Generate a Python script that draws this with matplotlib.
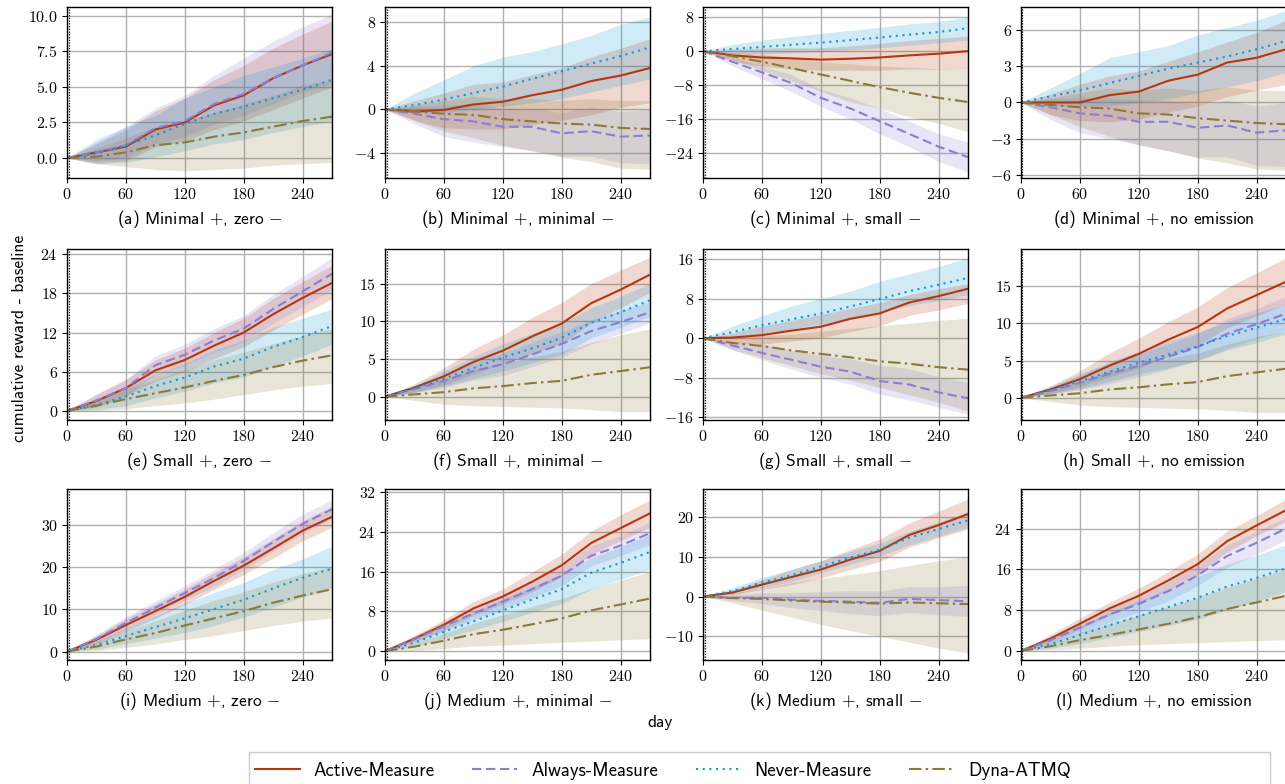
import matplotlib
matplotlib.use("Agg")
import matplotlib.pyplot as plt
from matplotlib.ticker import FixedLocator, FuncFormatter
from matplotlib.patches import Rectangle
from matplotlib.transforms import offset_copy

# ---------------- data ----------------
days = [0, 30, 60, 90, 120, 150, 180, 210, 240, 270]

panel_titles = [
    "(a) Minimal $+$, zero $-$", "(b) Minimal $+$, minimal $-$",
    "(c) Minimal $+$, small $-$", "(d) Minimal $+$, no emission",
    "(e) Small $+$, zero $-$", "(f) Small $+$, minimal $-$",
    "(g) Small $+$, small $-$", "(h) Small $+$, no emission",
    "(i) Medium $+$, zero $-$", "(j) Medium $+$, minimal $-$",
    "(k) Medium $+$, small $-$", "(l) Medium $+$, no emission",
]

y_limits = [(-1.4, 10.6), (-6.3, 9.4), (-29.9, 10.4), (-6.25, 7.9),
            (-1.4, 24.8), (-3.1, 19.6), (-16.6, 18.05), (-3.0, 20.0),
            (-2.0, 38.6), (-1.8, 32.7), (-16.0, 27.1), (-1.8, 31.75)]

y_ticks = [[0, 2.5, 5, 7.5, 10], [-4, 0, 4, 8], [-24, -16, -8, 0, 8], [-6, -3, 0, 3, 6],
           [0, 6, 12, 18, 24], [0, 5, 10, 15], [-16, -8, 0, 8, 16], [0, 5, 10, 15],
           [0, 10, 20, 30], [0, 8, 16, 24, 32], [-10, 0, 10, 20], [0, 8, 16, 24]]

x_ticks = [0, 60, 120, 180, 240]

series_names = ["Active-Measure", "Always-Measure", "Never-Measure", "Dyna-ATMQ"]

ACTIVE_MEAN = [
    [0, 0.4, 0.8, 2.0, 2.5, 3.7, 4.4, 5.6, 6.5, 7.3],
    [0, -0.2, -0.05, 0.45, 0.7, 1.3, 1.8, 2.6, 3.1, 3.8],
    [0, -1.0, -1.5, -1.7, -2.0, -1.8, -1.5, -1.0, -0.6, 0.0],
    [0, 0.0, 0.0, 0.6, 0.9, 1.8, 2.3, 3.3, 3.7, 4.4],
    [0, 1.5, 3.5, 6.2, 7.8, 10.0, 12.0, 14.8, 17.3, 19.6],
    [0, 1.2, 2.7, 4.6, 6.1, 8.0, 9.7, 12.4, 14.2, 16.2],
    [0, 0.1, 0.6, 1.5, 2.3, 3.9, 5.0, 7.2, 8.5, 10.0],
    [0, 1.1, 2.5, 4.3, 5.9, 7.8, 9.5, 12.0, 13.8, 15.6],
    [0, 2.8, 6.3, 9.6, 13.0, 16.8, 20.4, 24.5, 28.7, 32.0],
    [0, 2.5, 5.3, 8.6, 11.0, 14.0, 17.3, 21.8, 24.8, 27.8],
    [0, 1.0, 3.0, 4.9, 6.8, 9.3, 11.5, 15.5, 18.0, 20.8],
    [0, 2.4, 5.3, 8.3, 10.8, 13.8, 17.0, 21.5, 24.6, 27.6],
]
ACTIVE_LO = [
    [0, -0.3, -0.2, 0.8, 1.2, 2.0, 2.6, 3.4, 4.2, 5.0],
    [0, -1.0, -1.7, -1.8, -1.8, -1.4, -1.0, -0.5, 0.2, 0.6],
    [0, -2.5, -3.5, -4.3, -4.5, -4.5, -4.5, -4.2, -4.3, -4.0],
    [0, -1.0, -1.5, -1.6, -1.4, -0.8, -0.3, 0.5, 1.0, 1.5],
    [0, 0.6, 2.3, 4.6, 6.0, 8.0, 9.8, 12.4, 14.8, 17.2],
    [0, 0.6, 1.6, 3.0, 4.4, 5.7, 7.0, 9.8, 11.8, 13.8],
    [0, -0.9, -1.2, -0.6, 0.0, 1.3, 2.5, 4.6, 5.7, 7.0],
    [0, 0.6, 1.5, 2.8, 4.0, 5.5, 7.0, 9.4, 11.0, 12.6],
    [0, 1.8, 4.8, 7.9, 11.2, 14.8, 18.3, 22.2, 26.3, 29.5],
    [0, 1.8, 4.3, 7.2, 9.5, 12.0, 15.0, 19.5, 22.3, 25.0],
    [0, 0.4, 1.8, 3.0, 4.6, 6.8, 8.8, 12.4, 14.8, 17.0],
    [0, 1.6, 4.2, 7.0, 9.4, 12.0, 15.0, 19.4, 22.6, 25.4],
]
ACTIVE_HI = [
    [0, 1.0, 2.0, 3.3, 4.2, 5.5, 6.5, 7.7, 8.7, 9.6],
    [0, 0.8, 1.5, 2.3, 2.5, 3.2, 3.8, 4.8, 5.6, 6.5],
    [0, 0.5, 0.7, 0.8, 0.8, 1.2, 1.8, 2.5, 3.0, 3.5],
    [0, 0.7, 1.5, 2.2, 2.6, 3.4, 4.2, 5.0, 5.8, 6.8],
    [0, 2.5, 4.8, 7.8, 9.6, 12.0, 14.2, 17.2, 19.8, 22.3],
    [0, 1.7, 3.8, 6.3, 8.2, 10.5, 12.5, 15.0, 16.8, 18.5],
    [0, 1.0, 2.4, 3.6, 4.8, 6.0, 7.2, 8.8, 10.0, 11.0],
    [0, 1.6, 3.6, 6.0, 8.0, 10.2, 12.2, 14.8, 16.8, 18.8],
    [0, 3.8, 7.8, 11.3, 14.8, 18.8, 22.5, 26.8, 31.0, 34.5],
    [0, 3.2, 6.3, 10.0, 12.5, 16.0, 19.5, 24.2, 27.5, 30.5],
    [0, 1.6, 4.2, 6.8, 9.0, 11.8, 14.5, 18.5, 21.5, 24.6],
    [0, 3.2, 6.4, 9.5, 12.3, 15.5, 19.0, 23.5, 26.5, 29.8],
]

ALWAYS_MEAN = [
    [0, 0.4, 0.9, 2.1, 2.6, 3.8, 4.5, 5.6, 6.5, 7.4],
    [0, -0.4, -0.9, -1.1, -1.6, -1.6, -2.2, -2.0, -2.5, -2.4],
    [0, -2.5, -5.0, -7.5, -11.0, -13.5, -16.5, -19.5, -22.5, -25.0],
    [0, -0.4, -0.9, -1.1, -1.6, -1.6, -2.1, -1.9, -2.5, -2.3],
    [0, 1.6, 3.5, 7.0, 8.6, 10.8, 12.6, 15.6, 18.3, 21.0],
    [0, 1.0, 2.1, 3.4, 4.3, 5.6, 7.0, 8.7, 9.9, 11.2],
    [0, -1.5, -3.0, -4.4, -5.8, -6.8, -8.7, -9.4, -11.0, -12.2],
    [0, 0.9, 2.0, 3.2, 4.3, 5.5, 6.8, 8.6, 9.9, 11.3],
    [0, 3.0, 6.8, 10.4, 13.9, 17.5, 21.5, 26.0, 30.3, 33.8],
    [0, 2.4, 5.0, 7.6, 10.0, 12.5, 15.2, 19.2, 21.3, 23.8],
    [0, -0.3, -0.3, -0.8, -1.1, -1.3, -1.6, -0.6, -0.9, -1.2],
    [0, 2.1, 4.6, 7.1, 9.2, 11.7, 14.8, 18.6, 21.2, 24.0],
]
ALWAYS_LO = [
    [0, -0.2, 0.0, 1.0, 1.5, 2.4, 3.0, 3.8, 4.6, 5.2],
    [0, -1.3, -2.5, -3.0, -3.4, -3.8, -4.3, -4.3, -4.9, -5.0],
    [0, -3.5, -6.5, -9.5, -13.0, -16.0, -19.5, -22.5, -26.0, -28.5],
    [0, -1.4, -2.5, -3.0, -3.5, -4.0, -4.5, -4.5, -5.2, -5.3],
    [0, 0.6, 2.2, 5.6, 7.0, 9.0, 10.6, 13.4, 16.0, 18.5],
    [0, 0.6, 1.2, 2.2, 2.8, 4.0, 5.2, 7.0, 8.4, 9.8],
    [0, -2.4, -4.4, -6.3, -8.0, -9.3, -11.4, -12.5, -14.0, -15.5],
    [0, 0.5, 1.1, 1.9, 2.8, 3.8, 5.0, 6.6, 7.9, 9.1],
    [0, 2.0, 5.3, 8.8, 12.2, 15.5, 19.4, 23.8, 28.0, 31.6],
    [0, 1.8, 4.0, 6.4, 8.6, 10.8, 13.2, 17.2, 19.3, 21.5],
    [0, -1.0, -1.8, -2.8, -3.5, -4.3, -4.8, -4.0, -4.6, -5.0],
    [0, 1.4, 3.4, 5.6, 7.6, 9.8, 12.8, 16.4, 19.0, 21.8],
]
ALWAYS_HI = [
    [0, 1.1, 2.2, 3.5, 4.4, 5.8, 7.0, 8.2, 9.2, 10.1],
    [0, 0.3, 0.4, 0.5, 0.1, 0.1, -0.3, 0.2, -0.2, 0.0],
    [0, -1.5, -3.5, -5.5, -9.0, -11.0, -13.5, -16.5, -19.5, -21.5],
    [0, 0.3, 0.4, 0.4, 0.2, 0.2, -0.2, 0.2, -0.3, 0.0],
    [0, 2.6, 4.8, 8.4, 10.2, 12.6, 14.6, 17.8, 20.6, 23.5],
    [0, 1.4, 3.0, 4.6, 5.8, 7.2, 8.6, 10.2, 11.4, 12.6],
    [0, -0.6, -1.2, -2.5, -3.5, -4.2, -5.5, -6.2, -7.8, -9.0],
    [0, 1.4, 3.0, 4.6, 5.8, 7.2, 8.6, 10.6, 12.0, 13.6],
    [0, 4.0, 8.3, 12.0, 15.6, 19.5, 23.6, 28.2, 32.6, 36.0],
    [0, 3.0, 6.0, 8.8, 11.5, 14.3, 17.2, 21.2, 23.3, 26.0],
    [0, 0.4, 1.0, 1.0, 1.2, 1.5, 1.4, 2.5, 2.5, 2.8],
    [0, 2.8, 5.8, 8.6, 10.8, 13.6, 16.8, 20.8, 23.4, 26.2],
]

NEVER_MEAN = [
    [0, 0.3, 0.9, 1.6, 2.4, 3.1, 3.6, 4.2, 4.8, 5.5],
    [0, 0.4, 0.9, 1.5, 2.1, 2.8, 3.5, 4.2, 4.9, 5.7],
    [0, 0.5, 1.0, 1.5, 2.0, 2.6, 3.2, 3.9, 4.5, 5.4],
    [0, 0.5, 1.0, 1.6, 2.2, 2.8, 3.3, 3.8, 4.4, 5.1],
    [0, 0.9, 2.2, 3.8, 5.1, 6.8, 8.0, 9.8, 11.3, 13.0],
    [0, 1.1, 2.4, 3.8, 5.2, 6.4, 7.8, 9.8, 11.2, 12.8],
    [0, 1.2, 2.6, 3.8, 5.0, 6.4, 7.9, 9.5, 10.8, 12.2],
    [0, 1.0, 2.2, 3.5, 4.7, 5.8, 6.9, 8.3, 9.4, 10.6],
    [0, 1.6, 3.7, 5.8, 7.9, 10.1, 12.3, 15.0, 17.5, 19.7],
    [0, 1.7, 3.9, 6.0, 8.2, 10.4, 12.5, 15.8, 17.8, 20.0],
    [0, 1.4, 3.5, 5.3, 7.6, 9.8, 11.8, 14.8, 17.0, 19.2],
    [0, 1.3, 3.1, 5.0, 6.8, 8.6, 10.4, 12.6, 14.3, 16.2],
]
NEVER_LO = [
    [0, -0.4, -0.3, 0.1, 0.5, 1.0, 1.3, 1.8, 2.2, 2.6],
    [0, -0.3, -0.3, 0.0, 0.3, 0.6, 1.0, 1.6, 2.2, 2.8],
    [0, -0.6, -0.6, -0.4, -0.2, 0.3, 0.8, 1.4, 2.0, 2.6],
    [0, -0.3, -0.3, -0.3, 0.0, 0.3, 0.8, 1.3, 1.8, 2.5],
    [0, 0.2, 0.8, 2.0, 3.0, 4.3, 5.2, 6.8, 8.4, 10.2],
    [0, 0.5, 1.4, 2.4, 3.4, 4.5, 5.6, 7.8, 9.2, 10.6],
    [0, 0.0, 1.0, 1.8, 2.8, 4.0, 5.2, 6.6, 7.6, 8.8],
    [0, 0.5, 1.2, 2.2, 3.2, 4.0, 5.0, 6.4, 7.4, 8.6],
    [0, 0.6, 1.9, 3.2, 4.5, 6.2, 8.2, 10.5, 13.0, 15.0],
    [0, 0.9, 2.6, 4.2, 6.0, 7.8, 9.6, 12.5, 14.5, 16.4],
    [0, 0.6, 2.2, 3.8, 6.0, 8.1, 10.2, 13.0, 15.2, 17.4],
    [0, 0.5, 1.4, 2.6, 3.8, 5.0, 6.2, 8.0, 9.8, 11.6],
]
NEVER_HI = [
    [0, 1.3, 2.2, 3.0, 4.2, 5.0, 5.8, 6.4, 7.0, 7.7],
    [0, 1.5, 2.7, 4.0, 4.8, 5.3, 6.0, 6.8, 7.8, 8.5],
    [0, 1.6, 2.6, 3.4, 4.2, 4.9, 5.6, 6.4, 7.0, 8.0],
    [0, 1.2, 2.4, 3.7, 4.2, 4.7, 5.6, 6.2, 6.8, 7.6],
    [0, 1.8, 3.6, 5.6, 7.2, 9.3, 10.8, 12.8, 14.2, 15.6],
    [0, 1.5, 3.4, 5.3, 7.0, 8.4, 9.8, 11.8, 13.3, 15.0],
    [0, 2.4, 4.5, 6.5, 8.0, 9.5, 11.5, 13.0, 14.5, 16.2],
    [0, 1.5, 3.2, 4.8, 6.2, 7.6, 8.8, 10.2, 11.4, 12.6],
    [0, 2.6, 5.5, 8.6, 11.5, 14.0, 16.4, 19.5, 22.0, 25.0],
    [0, 2.5, 5.2, 7.8, 10.5, 13.0, 15.5, 18.8, 21.0, 23.6],
    [0, 2.2, 4.8, 6.8, 9.0, 11.4, 13.4, 16.4, 18.8, 21.2],
    [0, 2.2, 4.9, 7.6, 9.8, 12.2, 14.6, 17.0, 18.8, 20.8],
]

DYNA_MEAN = [
    [0, 0.1, 0.4, 0.9, 1.1, 1.5, 1.8, 2.2, 2.6, 2.9],
    [0, -0.2, -0.4, -0.5, -0.9, -1.1, -1.3, -1.4, -1.7, -1.8],
    [0, -1.2, -2.5, -4.0, -5.5, -7.0, -8.5, -9.8, -11.0, -12.0],
    [0, -0.2, -0.4, -0.5, -0.9, -1.0, -1.3, -1.5, -1.7, -1.8],
    [0, 0.8, 1.8, 2.7, 3.6, 4.6, 5.5, 6.7, 7.7, 8.5],
    [0, 0.3, 0.6, 1.1, 1.4, 1.8, 2.1, 2.9, 3.4, 3.9],
    [0, -1.0, -1.6, -2.5, -3.2, -3.9, -4.7, -5.2, -5.9, -6.4],
    [0, 0.3, 0.6, 1.1, 1.4, 1.8, 2.1, 2.9, 3.4, 3.9],
    [0, 1.2, 2.9, 4.4, 6.2, 7.9, 9.6, 11.6, 13.3, 14.8],
    [0, 0.9, 2.1, 3.4, 4.3, 5.4, 6.6, 8.2, 9.4, 10.6],
    [0, -0.4, -0.6, -1.0, -1.3, -1.5, -1.8, -1.5, -1.7, -1.9],
    [0, 0.9, 2.1, 3.1, 4.2, 5.3, 6.6, 8.2, 9.5, 10.8],
]
DYNA_LO = [
    [0, -0.4, -0.6, -0.8, -0.9, -0.8, -0.7, -0.5, -0.4, -0.3],
    [0, -1.0, -2.0, -2.6, -3.3, -3.8, -4.4, -4.8, -5.4, -5.5],
    [0, -2.0, -4.5, -7.0, -9.5, -12.0, -13.5, -15.5, -17.0, -19.0],
    [0, -1.0, -2.0, -2.8, -3.5, -4.0, -4.6, -5.0, -5.5, -5.6],
    [0, 0.0, 0.3, 0.8, 1.2, 1.8, 2.5, 3.2, 3.8, 4.2],
    [0, -0.5, -1.0, -1.2, -1.3, -1.4, -1.5, -1.7, -2.0, -2.0],
    [0, -2.3, -4.0, -5.6, -7.2, -8.5, -10.0, -11.5, -13.0, -14.8],
    [0, -0.5, -1.0, -1.2, -1.3, -1.4, -1.5, -1.7, -2.0, -2.0],
    [0, 0.2, 1.0, 1.8, 2.9, 3.8, 5.0, 6.2, 7.2, 8.0],
    [0, 0.1, 0.5, 1.0, 1.2, 1.5, 1.8, 2.0, 2.3, 2.5],
    [0, -1.6, -3.4, -5.2, -7.0, -8.6, -10.0, -11.5, -13.0, -14.2],
    [0, 0.2, 0.5, 0.9, 1.2, 1.4, 1.6, 1.8, 2.0, 2.2],
]
DYNA_HI = [
    [0, 0.7, 1.4, 2.2, 2.6, 3.2, 3.8, 4.4, 5.1, 5.5],
    [0, 0.4, 0.8, 1.2, 1.0, 1.0, 0.8, 1.0, 0.8, 0.8],
    [0, -0.3, -0.8, -1.5, -2.5, -3.0, -3.5, -3.8, -4.2, -4.0],
    [0, 0.4, 0.8, 1.2, 1.0, 1.2, 1.0, 1.3, 1.0, 1.0],
    [0, 1.6, 3.3, 4.8, 6.2, 7.8, 9.0, 10.3, 11.5, 12.6],
    [0, 1.0, 2.2, 3.6, 4.4, 5.3, 6.0, 7.2, 8.2, 9.0],
    [0, 0.2, 0.5, 0.8, 1.4, 2.0, 2.5, 3.0, 3.6, 4.0],
    [0, 1.0, 2.2, 3.6, 4.4, 5.3, 6.0, 7.2, 8.2, 9.0],
    [0, 2.2, 4.8, 7.3, 9.8, 12.2, 14.2, 16.5, 18.5, 20.2],
    [0, 1.7, 3.6, 5.6, 7.3, 9.0, 10.6, 12.6, 14.3, 16.0],
    [0, 0.8, 2.0, 3.5, 4.5, 5.5, 6.5, 7.8, 9.0, 10.0],
    [0, 1.6, 3.6, 5.4, 7.0, 8.6, 10.4, 12.4, 14.2, 16.0],
]

# ---------------- style ----------------
plt.rcParams["mathtext.fontset"] = "cm"
plt.rcParams["font.family"] = ["cmss10", "DejaVu Sans"]
plt.rcParams["axes.unicode_minus"] = False

colors = ["#B4370F", "#8C7DD2", "#1496D2", "#8C783C"]
styles = ["-", (0, (4.5, 2.2)), (0, (1, 2.2)), (0, (6, 2, 1.2, 2))]
means = [ACTIVE_MEAN, ALWAYS_MEAN, NEVER_MEAN, DYNA_MEAN]
los = [ACTIVE_LO, ALWAYS_LO, NEVER_LO, DYNA_LO]
his = [ACTIVE_HI, ALWAYS_HI, NEVER_HI, DYNA_HI]

W, H = 1285, 784
fig = plt.figure(figsize=(W / 100, H / 100), dpi=100)

col_left = [67, 385, 703, 1021]
row_top = [7, 249, 489]
ax_w, ax_h = 265, 171

handles = []
for i in range(12):
    r, c = divmod(i, 4)
    ax = fig.add_axes([col_left[c] / W, 1 - (row_top[r] + ax_h) / H, ax_w / W, ax_h / H])
    for s in range(4):
        ax.fill_between(days, los[s][i], his[s][i], color=colors[s], alpha=0.2, lw=0)
    for s in range(4):
        ln, = ax.plot(days, means[s][i], color=colors[s], ls=styles[s], lw=1.5,
                      label=series_names[s])
        if i == 0:
            handles.append(ln)
    ax.set_xlim(0, 270)
    ax.set_ylim(*y_limits[i])
    ax.xaxis.set_major_locator(FixedLocator(x_ticks))
    ax.yaxis.set_major_locator(FixedLocator(y_ticks[i]))
    if i == 0:
        ax.yaxis.set_major_formatter(FuncFormatter(lambda v, p: f"${v:.1f}$"))
    else:
        ax.yaxis.set_major_formatter(FuncFormatter(lambda v, p: f"${v:.0f}$"))
    ax.xaxis.set_major_formatter(FuncFormatter(lambda v, p: f"${v:.0f}$"))
    ax.tick_params(labelsize=11.5, length=3.5, width=0.8, pad=3)
    ax.grid(True, color="#b0b0b0", lw=1.0)
    ax.set_axisbelow(True)
    for sp in ax.spines.values():
        sp.set_linewidth(1.0)
    # dotted decoration just inside the left spine
    tr = offset_copy(ax.transAxes, fig=fig, x=1.5, y=0, units="dots")
    ax.plot([0, 0], [0, 1], transform=tr, color="k", ls=(0, (1, 1.2)), lw=0.9,
            clip_on=False)
    ax.set_xlabel(panel_titles[i], fontsize=12.5, labelpad=4)

fig.text(20 / W, 1 - 338 / H, "cumulative reward - baseline", rotation=90,
         ha="center", va="center", fontsize=12.5)
fig.text(660 / W, 1 - 723 / H, "day", ha="center", va="center", fontsize=12.5)

# legend: box spanning 249..1270 px, entries packed from the left
fig.patches.append(Rectangle((249 / W, -0.01), (1270 - 249) / W, 0.01 + 1 - 752 / H,
                             transform=fig.transFigure, facecolor="white",
                             edgecolor="#cccccc", lw=1.0, zorder=1))
leg = fig.legend(handles, series_names, loc="center left", ncol=4,
                 bbox_to_anchor=(249 / W, 1 - 771 / H), fontsize=13.5,
                 handlelength=2.4, handletextpad=0.75, columnspacing=2.0,
                 frameon=False, borderaxespad=0.0, borderpad=0.3)
leg.set_zorder(2)

fig.savefig("out.png", dpi=100)
